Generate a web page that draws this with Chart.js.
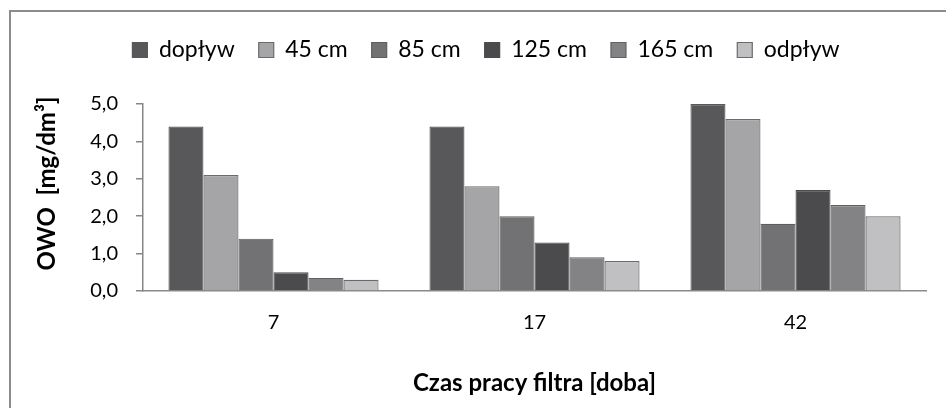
<!DOCTYPE html>
<html><head><meta charset="utf-8">
<script src="https://cdn.jsdelivr.net/npm/chart.js@4"></script>
<style>
html,body{margin:0;padding:0;background:#fff;}
#wrap{position:relative;width:946px;height:408px;overflow:hidden;}
#frame{position:absolute;left:9px;top:10px;width:960px;height:420px;border-left:2px solid #8c8c8c;border-top:2px solid #8c8c8c;}
canvas{position:absolute;left:0;top:0;}
</style></head><body>
<div id="wrap"><div id="frame"></div><canvas id="c" width="946" height="408"></canvas></div>
<script>
const categories = ['7', '17', '42'];
const seriesNames = ['dopływ', '45 cm', '85 cm', '125 cm', '165 cm', 'odpływ'];
const doplyw = [4.4, 4.4, 5.0];
const cm45 = [3.1, 2.8, 4.6];
const cm85 = [1.4, 2.0, 1.8];
const cm125 = [0.5, 1.3, 2.7];
const cm165 = [0.35, 0.9, 2.3];
const odplyw = [0.3, 0.8, 2.0];
const yTickValues = [0, 1, 2, 3, 4, 5];
const xTitle = 'Czas pracy filtra [doba]';
const yTitle = 'OWO  [mg/dm³]';

const seriesValues = [doplyw, cm45, cm85, cm125, cm165, odplyw];
const fills = ['#58585a', '#a5a5a7', '#727274', '#4b4b4d', '#838385', '#c0c0c2'];
const borders = ['#58585a', '#6a6a6c', '#5e5e60', '#4b4b4d', '#616163', '#6a6a6c'];

const FONT = 'Lato, "Liberation Sans", sans-serif';
let legendExtra = 0;
const legendShift = 18;
const yTitleRaise = 28;

const patchPlugin = {
  id: 'patchLegend',
  beforeUpdate(chart) {
    const lg = chart.legend;
    if (lg && !lg._patched) {
      const orig = lg.fit;
      lg.fit = function () { orig.call(this); this.height += legendExtra; };
      lg._patched = true;
    }
  },
  afterLayout(chart) {
    const lg = chart.legend;
    if (lg) { lg.left += legendShift; lg.right += legendShift; }
  }
};

function patchYTitle(s) {
  if (s._titlePatched) return;
  const orig = s.drawTitle;
  s.drawTitle = function () {
    const t = this.top;
    this.top -= yTitleRaise;
    orig.call(this);
    this.top = t;
  };
  s._titlePatched = true;
}

const chart = new Chart(document.getElementById('c'), {
  type: 'bar',
  data: {
    labels: categories,
    datasets: seriesNames.map((n, i) => ({
      label: n,
      data: seriesValues[i],
      backgroundColor: fills[i],
      borderColor: borders[i],
      borderWidth: 1.2,
      categoryPercentage: 0.805,
      barPercentage: 1.0
    }))
  },
  options: {
    responsive: false,
    animation: false,
    layout: { padding: { left: 10, right: 20, top: 10, bottom: 0 } },
    plugins: {
      tooltip: { enabled: false },
      legend: {
        position: 'top',
        align: 'center',
        labels: {
          boxWidth: 15, boxHeight: 15, padding: 24,
          color: '#000',
          font: { family: FONT, size: 23 }
        }
      }
    },
    scales: {
      x: {
        afterFit: s => { s.height = 408 - 291; },
        grid: { display: true, drawOnChartArea: false, drawTicks: false },
        border: { display: true, color: '#8a8a8a', width: 1.5 },
        ticks: { color: '#000', padding: 20, font: { family: FONT, size: 20 } },
        title: { display: true, text: xTitle, color: '#000',
          padding: { top: 0, bottom: 10.6 }, font: { family: FONT, size: 24, weight: 'bold' } }
      },
      y: {
        min: 0, max: 5,
        afterFit: s => { s.width = 133; patchYTitle(s); },
        afterBuildTicks: s => { s.ticks = yTickValues.map(v => ({ value: v })); },
        grid: { display: true, drawOnChartArea: false, drawTicks: true, tickLength: 7, color: '#868686', lineWidth: 1.5 },
        border: { display: true, color: '#868686', width: 1.5 },
        ticks: { color: '#000', padding: 18, font: { family: FONT, size: 20 },
          callback: v => v.toFixed(1).replace('.', ',') },
        title: { display: true, text: yTitle, color: '#000',
          padding: { top: 22.6, bottom: 0 }, font: { family: FONT, size: 24, weight: 'bold' } }
      }
    }
  },
  plugins: [patchPlugin]
});

(function () {
  const lg = chart.legend;
  const hb = lg.legendHitBoxes[0];
  const itemCenter = hb.top + hb.height / 2;
  const d1 = 50 - itemCenter;
  chart.options.layout.padding.top += d1;
  legendExtra = 104 - (chart.chartArea.top + d1);
  chart.update();
})();
</script>
</body></html>
